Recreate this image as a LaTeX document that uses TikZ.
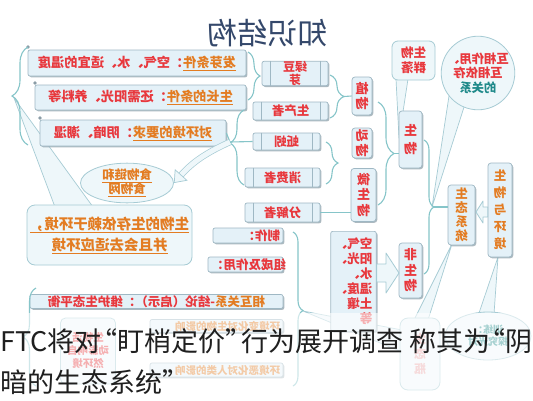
\documentclass[tikz,border=0pt]{standalone}
\usepackage{fontspec}
\usepackage{graphicx}
\usetikzlibrary{decorations.pathreplacing,shadows,shapes.geometric,arrows.meta}
\newfontfamily\cjk{Noto Sans CJK SC}
\newcommand\mir[1]{\reflectbox{#1}}
\newcommand\qL{\makebox[0.58em][r]{“}}
\newcommand\qR{\makebox[0.58em][l]{”}}
\definecolor{redT}{HTML}{E8383D}
\definecolor{orgT}{HTML}{E37C22}
\definecolor{tealT}{HTML}{1F8A8A}
\definecolor{boxfill}{HTML}{E4F1F8}
\definecolor{boxline}{HTML}{9FB8C4}
\definecolor{shadowc}{HTML}{8A9CA6}
\definecolor{brcC}{HTML}{86C5C9}
\definecolor{tailfill}{HTML}{EEF7FA}
\definecolor{tailline}{HTML}{A6CBD4}
\definecolor{titleC}{HTML}{34486B}
\definecolor{fadeT}{HTML}{E9A3A5}
\tikzset{
  bx/.style={draw=boxline, fill=boxfill, line width=0.7pt, rounded corners=2pt, inner sep=0pt,
     drop shadow={shadow xshift=1.3pt, shadow yshift=-1.3pt, fill=shadowc, opacity=0.7}},
  vbx/.style={bx, rounded corners=3pt, align=center, text=redT, font=\cjk\bfseries\fontsize{13}{15.5}\selectfont},
  callbox/.style={draw=tailline, fill=tailfill, line width=0.8pt, rounded corners=8pt, inner sep=0pt},
  tail/.style={draw=tailline, fill=tailfill, line width=0.7pt, line join=round},
  brc/.style={draw=brcC, line width=1.1pt, decorate, decoration={brace, amplitude=#1, aspect=0.5}},
  brc/.default=10pt,
  cline/.style={draw=brcC, line width=1.1pt},
  divl/.style={draw=boxline, line width=0.7pt},
  txt/.style={font=\cjk\bfseries\fontsize{12.5}{14}\selectfont, inner sep=0pt},
  ltxt/.style={font=\cjk\bfseries\fontsize{13.2}{15}\selectfont, inner sep=0pt},
  harrow/.style={draw=tailline, fill=tailfill, line width=0.8pt, line join=round},
  captxt/.style={anchor=base west, inner sep=0pt, text=black!88, font=\cjk\fontsize{27}{30}\selectfont},
}
\begin{document}
\begin{tikzpicture}[x=1pt,y=-1pt]
\useasboundingbox (0,0) rectangle (533,400);
\fill[white] (0,0) rectangle (533,400);

% title
\node[text=titleC, font=\cjk\fontsize{30}{32}\selectfont, inner sep=0pt] (title) at (267,33) {\mir{知识结构}};

% ---------- callout tails ----------
\filldraw[tail] (14,98) -- (55,207) -- (93,207) -- cycle;
\filldraw[tail] (396,79) -- (399,138) -- (408,79) -- cycle;
\filldraw[tail] (449,96) -- (432,207) -- (465,104) -- cycle;
\filldraw[tail] (414,320) -- (452,244) -- (428,320) -- cycle;
\filldraw[tail] (402,330) -- (303,311) -- (402,352) -- cycle;
\filldraw[tail] (478,316) -- (498,257) -- (494,314) -- cycle;

% ---------- left long boxes ----------
\node[bx, minimum width=218, minimum height=26, ltxt] (b1) at (137,63)
  {\mir{\textcolor{orgT}{\underline{发芽条件}}\textcolor{redT}{：空气、水、适宜的温度}}};
\node[bx, minimum width=211, minimum height=25, ltxt] (b2) at (140.5,97.5)
  {\mir{\textcolor{orgT}{\underline{生长的条件}}\textcolor{redT}{：还需阳光、养料等}}};
\node[bx, minimum width=186, minimum height=26, ltxt] (b3) at (133,133)
  {\mir{\textcolor{orgT}{\underline{对环境的要求}}\textcolor{redT}{：阴暗、潮湿}}};
\fill[shadowc] (28,47) circle (1.8) (35,83) circle (1.8) (40,118) circle (1.8);

% braces left
\draw[brc=16pt] (28,145) -- (28,47);
\draw[brc=12pt] (248,52) -- (248,100);
\draw[brc=14pt, decoration={aspect=0.56}] (244,185) -- (244,110);
\coordinate (b3tip) at (230,142);
\draw[cline] (b3.east) -- (b3tip);

% ellipse
\node[draw=tailline, fill=tailfill, line width=0.8pt, ellipse, minimum width=93, minimum height=26, inner sep=0pt,
  align=center, text=orgT, font=\cjk\bfseries\fontsize{12.5}{15}\selectfont] (food) at (127,183)
  {\mir{\underline{食物链和}}\\[-1pt]\mir{\underline{食物网}}};
\draw[draw=tailline, double=tailfill, double distance=5pt, line width=0.7pt,
  -{Triangle[length=11pt, width=17pt, fill=tailfill, line width=0.7pt]}]
  (b3tip) to[bend right=12] (food.east);

% big callout
\node[callbox, minimum width=165, minimum height=60, align=center, text=orgT,
  font=\cjk\bfseries\fontsize{14.5}{21}\selectfont] (dep) at (109.5,235)
  {\mir{\underline{生物的生存依赖于环境，}}\\\mir{\underline{并且会去适应环境}}};

% ---------- middle boxes ----------
\node[bx, minimum width=66, minimum height=23, txt, text=redT, align=center, font=\cjk\bfseries\fontsize{12}{13}\selectfont] (ldy) at (295,73.5) {\mir{绿豆}\\\mir{芽}};
\node[bx, minimum width=75, minimum height=18, txt, text=redT] (scz) at (290.5,111) {\mir{生产者}};
\node[bx, minimum width=67, minimum height=17, txt, text=redT] (qy) at (286.5,141.5) {\mir{蚯蚓}};
\node[bx, minimum width=75, minimum height=19, txt, text=redT] (xfz) at (282.5,177.5) {\mir{消费者}};
\node[bx, minimum width=75, minimum height=19, txt, text=redT] (fjz) at (282.5,212.5) {\mir{分解者}};
\foreach \n in {ldy,scz,qy,xfz,fjz}{
  \draw[divl] ([xshift=9pt]\n.north west) -- ([xshift=9pt]\n.south west);
  \draw[divl] ([xshift=-8pt]\n.north east) -- ([xshift=-8pt]\n.south east);
}
\draw[cline] (b3tip) -- (qy.west);

\node[vbx, minimum width=20, minimum height=38] (zw) at (362,96) {\mir{植}\\\mir{物}};
\node[vbx, minimum width=20, minimum height=30] (dw) at (362,143) {\mir{动}\\\mir{物}};
\node[vbx, minimum width=25, minimum height=53] (wsw) at (363.5,195) {\mir{微}\\\mir{生}\\\mir{物}};
\draw[brc=14pt] (330,75) -- (330,118);
\coordinate (b4tip) at (344,96.5);
\draw[cline] (b4tip) -- (zw.west);
\draw[brc=12pt] (326,142) -- (326,184);
\draw[cline] (fjz.east) -- (wsw.west |- fjz.east);

% ---------- right column ----------
\node[callbox, rounded corners=6pt, minimum width=43, minimum height=39, align=center, text=redT,
  font=\cjk\bfseries\fontsize{12.5}{15}\selectfont] (qunluo) at (413.5,60.5) {\mir{生物}\\\mir{群落}};
\node[vbx, minimum width=23, minimum height=57] (sw) at (410.5,139.5) {\mir{生}\\[3pt]\mir{物}};
\draw[brc=16pt] (378,102) -- (378,205);
\coordinate (b6tip) at (394,153.5);
\draw[cline] (b6tip) -- (sw.west |- b6tip);

\node[draw=tailline, fill=tailfill, line width=0.8pt, circle, minimum size=66, inner sep=0pt, align=center,
  font=\cjk\bfseries\fontsize{12.3}{14.5}\selectfont] (rel) at (478,73)
  {\textcolor{redT}{\mir{互相作用、}}\\\textcolor{redT}{\mir{互相依存}}\\\textcolor{tealT}{\mir{的关系}}};

\node[vbx, text=orgT, minimum width=27, minimum height=60, font=\cjk\bfseries\fontsize{12.5}{14}\selectfont] (stxt) at (461.5,215) {\mir{生}\\\mir{态}\\\mir{系}\\\mir{统}};
\node[vbx, text=orgT, minimum width=24, minimum height=94, font=\cjk\bfseries\fontsize{12.5}{17}\selectfont] (swyhj) at (500,210) {\mir{生}\\\mir{物}\\\mir{与}\\\mir{环}\\\mir{境}};
\filldraw[harrow] (swyhj.west |- 0,207) -- (483,207) -- (483,201) -- (476,212) -- (483,223) -- (483,217) -- (swyhj.west |- 0,217) -- cycle;

\node[vbx, minimum width=23, minimum height=55] (fsw) at (410.5,270.5) {\mir{非}\\\mir{生}\\\mir{物}};
\draw[brc=10pt] (424,140) -- (424,274);
\coordinate (b7tip) at (434,207);
\draw[cline] (b7tip) -- (stxt.west |- b7tip);

\node[bx, minimum width=41, minimum height=100, anchor=north, align=right, text=redT,
  font=\cjk\bfseries\fontsize{12.5}{15}\selectfont, inner xsep=4pt] (env) at (353.5,231)
  {\mir{空气、}\\\mir{阳光、}\\\mir{水、}\\\mir{温度、}\\\mir{土壤}\\\mir{等}};
\filldraw[harrow] (env.east |- 0,264) -- (386,264) -- (386,253) -- (399,273) -- (386,293) -- (386,282) -- (env.east |- 0,282) -- cycle;

% ---------- bottom boxes ----------
\node[bx, minimum width=70, minimum height=15, txt, text width=64pt, align=right, inner xsep=3pt, text=redT] (zz) at (248,235.5) {\mir{制作：}};
\node[bx, minimum width=75, minimum height=15, txt, text width=69pt, align=right, inner xsep=3pt, text=redT] (zc) at (245.5,264.5) {\mir{组成及作用：}};
\node[bx, minimum width=253, minimum height=14, txt] (xh) at (156.5,301.5)
  {\mir{\textcolor{orgT}{相互关系}\textcolor{redT}{-结论（启示）：维护生态平衡}}};
\node[bx, minimum width=133, minimum height=13, txt, text width=127pt, align=right, inner xsep=3pt, text=orgT,
  font=\cjk\bfseries\fontsize{10.5}{12}\selectfont] (yx) at (216.5,326) {\mir{环境变化对生物的影响}};
\node[bx, minimum width=133, minimum height=14, txt, text width=127pt, align=right, inner xsep=3pt, text=orgT,
  font=\cjk\bfseries\fontsize{10.5}{12}\selectfont] (eh) at (216.5,370) {\mir{环境恶化对人类的影响}};
\node[callbox, rounded corners=5pt, minimum width=55, minimum height=66, align=center, text=redT,
  font=\cjk\bfseries\fontsize{10.5}{13}\selectfont] (hd) at (88,351) {\mir{生物活}\\\mir{动影响自}\\\mir{然环境}};
\draw[brc=13pt] (36,386) -- (36,288);
\draw[brc=10pt, decoration={aspect=0.51}] (293,232) -- (293,386);

\node[callbox, minimum width=40, minimum height=72, align=center, text=fadeT,
  font=\cjk\bfseries\fontsize{12}{15}\selectfont] (stp) at (420,354) {\mir{生}\\\mir{态}\\\mir{瓶}};
\node[draw=tailline, fill=tailfill, line width=0.8pt, ellipse, minimum width=86, minimum height=48, inner sep=0pt,
  align=center, text=tealT, font=\cjk\bfseries\fontsize{10}{12}\selectfont] (xl) at (488,336) {\mir{训练：}\\\mir{探究光对}};

% fade band
\fill[white, opacity=0.6] (0,313) rectangle (533,400);

% caption
\node[captxt] (cap1) at (0,351) {FTC将对\qL 盯梢定价\qR 行为展开调查 称其为\qL 阴};
\node[captxt] (cap2) at (0,392) {暗的生态系统\qR};
\end{tikzpicture}
\end{document}
